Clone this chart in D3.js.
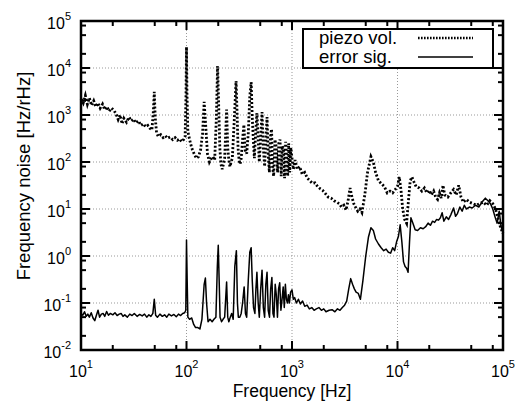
<!DOCTYPE html>
<html>
<head>
<meta charset="utf-8">
<script src="https://cdn.jsdelivr.net/npm/d3@7"></script>
<style>
body { margin: 0; background: #fff; }
text { font-family: "Liberation Sans", Arial, sans-serif; fill: #000; }
</style>
</head>
<body>
<script>
// piezo voltage spectrum [frequency Hz, noise Hz/rHz]
var piezo = [
  [10,2200],[10.5,1800],[11,2600],[11.5,1700],[12,2300],[12.6,1600],[13.2,2000],[13.8,1500],
  [14.5,1800],[15.2,1400],[16,1700],[16.8,1300],[17.6,1500],[18.5,1200],[19.5,1400],[20.5,1250],
  [21.5,1050],[22.5,800],[23.5,1000],[24.5,650],[25.5,850],[27,700],[28.5,900],[30,750],
  [31.5,820],[33,680],[35,750],[37,600],[39,650],[41,560],[43,600],[45,520],[47,480],
  [48.5,1200],[49.5,3100],[50.5,900],[52,420],[54,350],[57,380],[60,330],[63,360],[66,320],
  [70,340],[74,300],[78,330],[82,290],[86,310],[90,270],[94,300],[97,350],[99,3000],
  [100,28000],[101,3000],[103,450],[107,300],[112,200],[118,150],[124,120],[130,130],
  [136,180],[142,400],[147,1900],[152,600],[158,150],[165,100],[172,120],[178,130],[185,110],
  [192,900],[197,11000],[202,1500],[207,200],[212,90],[218,70],[224,90],[230,120],[240,1300],
  [246,200],[252,110],[258,80],[265,100],[272,120],[283,700],[295,5300],[302,1000],[308,200],
  [315,110],[322,90],[330,120],[340,300],[350,620],[360,180],[372,150],[385,400],[398,2500],
  [410,5000],[420,900],[430,300],[440,120],[452,400],[465,1100],[478,300],[490,100],[505,350],
  [520,1150],[535,200],[550,80],[565,300],[580,900],[595,150],[610,60],[625,350],[640,500],
  [655,80],[670,50],[690,300],[710,200],[730,60],[750,250],[770,300],[790,50],[810,220],
  [830,180],[850,45],[870,270],[890,120],[910,50],[930,250],[950,60],[975,200],[1000,120],
  [1030,70],[1070,110],[1120,70],[1180,80],[1250,55],[1320,60],[1400,45],[1480,40],[1560,35],
  [1650,36],[1750,30],[1850,27],[1950,25],[2050,22],[2200,18],[2350,17],[2500,15],[2650,14],
  [2800,13],[2950,11],[3100,12],[3250,9.5],[3400,15],[3550,28],[3700,18],[3850,13],[4000,11],
  [4200,9],[4400,10],[4600,8.4],[4900,20],[5200,60],[5600,130],[5900,100],[6200,60],[6600,40],
  [7000,35],[7500,30],[8000,22],[8500,24],[9000,22],[9500,26],[10000,30],[10400,48],[10800,25],
  [11200,10],[11700,6],[12200,5],[12700,15],[13200,40],[13700,48],[14300,38],[15000,30],
  [16000,28],[17000,24],[18000,28],[19000,22],[20000,25],[21000,20],[22000,24],[23000,18],
  [24000,16],[25000,22],[26000,17],[27000,32],[28000,20],[30000,18],[32000,22],[34000,26],
  [36000,20],[38000,32],[40000,18],[42000,14],[45000,16],[48000,14],[52000,13],[56000,12],
  [60000,13],[65000,14],[70000,12],[75000,15],[80000,13],[85000,10],[90000,6],[95000,4],[100000,3]
];

// error signal spectrum [frequency Hz, noise Hz/rHz]
var errorSig = [
  [10,0.06],[10.4,0.055],[10.8,0.065],[11.2,0.052],[11.6,0.058],[12,0.05],[12.5,0.062],[13,0.048],
  [13.5,0.042],[14,0.055],[14.5,0.07],[15,0.05],[15.6,0.058],[16.2,0.06],[16.8,0.052],[17.5,0.066],
  [18.2,0.055],[19,0.06],[20,0.056],[21,0.062],[22,0.054],[23,0.058],[24,0.06],[25,0.052],
  [26,0.056],[27.5,0.05],[29,0.058],[30.5,0.054],[32,0.06],[34,0.052],[36,0.057],[38,0.053],
  [40,0.058],[42,0.05],[44,0.056],[46,0.052],[48,0.06],[49.5,0.12],[51,0.055],[53,0.05],
  [56,0.058],[59,0.052],[62,0.056],[65,0.05],[68,0.058],[72,0.053],[76,0.057],[80,0.051],
  [84,0.058],[88,0.054],[92,0.06],[96,0.062],[98.5,0.07],[100,2.2],[101.5,0.3],[103,0.05],
  [107,0.045],[112,0.048],[117,0.035],[122,0.03],[128,0.03],[134,0.028],[140,0.045],[147,0.25],
  [151,0.34],[155,0.1],[160,0.04],[167,0.045],[175,0.04],[182,0.045],[190,0.05],[196,0.6],
  [200,1.7],[204,0.3],[208,0.05],[215,0.04],[222,0.045],[230,0.05],[240,0.28],[246,0.05],
  [252,0.04],[260,0.05],[268,0.06],[277,0.045],[287,0.6],[297,1.3],[304,0.1],[310,0.05],
  [320,0.05],[330,0.06],[340,0.1],[352,0.22],[362,0.06],[372,0.05],[385,0.3],[398,1.2],
  [410,1.5],[420,0.3],[432,0.08],[445,0.06],[455,0.2],[465,0.45],[478,0.1],[490,0.05],
  [505,0.2],[520,0.5],[535,0.08],[550,0.05],[565,0.25],[580,0.45],[595,0.07],[612,0.05],
  [628,0.2],[645,0.35],[660,0.06],[675,0.05],[693,0.25],[710,0.15],[728,0.05],[746,0.2],
  [765,0.27],[785,0.07],[805,0.12],[825,0.22],[845,0.08],[865,0.25],[885,0.12],[905,0.1],
  [925,0.15],[945,0.1],[970,0.17],[1000,0.19],[1030,0.12],[1060,0.13],[1100,0.1],[1150,0.12],
  [1200,0.095],[1260,0.11],[1320,0.085],[1390,0.09],[1460,0.075],[1540,0.08],[1620,0.07],
  [1700,0.075],[1800,0.08],[1900,0.07],[2000,0.075],[2100,0.065],[2250,0.07],[2400,0.072],
  [2550,0.065],[2700,0.075],[2850,0.07],[3000,0.08],[3150,0.09],[3300,0.11],[3450,0.2],
  [3600,0.33],[3750,0.25],[3900,0.2],[4050,0.17],[4250,0.16],[4450,0.12],[4700,0.3],[5000,1],
  [5300,2.5],[5600,4],[5900,3.5],[6200,2.3],[6600,1.8],[7000,1.5],[7400,1.3],[7800,1.4],
  [8200,1.2],[8600,1.15],[9000,1.5],[9400,1.3],[9800,2],[10200,2.6],[10600,4.6],[11000,2],
  [11400,0.75],[11800,0.6],[12200,0.55],[12600,0.45],[13000,2],[13400,6.5],[14000,5],
  [14700,3.6],[15500,3.5],[16500,4],[17500,3.8],[18500,4.2],[19500,5],[20500,4.5],[21500,5.5],
  [22500,5.2],[23500,6],[24500,5.8],[25500,6.5],[26500,8.3],[27500,5.5],[29000,6.8],[30500,6],
  [32000,7.5],[34000,10.5],[35500,7],[37000,8],[39000,11],[41000,9],[43000,12],[45000,10],
  [48000,11],[51000,10.5],[55000,12],[59000,11],[63000,14],[68000,17],[72000,15],[76000,13],
  [80000,10],[84000,6.8],[88000,5],[92000,9],[96000,4.2],[100000,3.1]
];

var xDecades = [1, 2, 3, 4, 5];
var yDecades = [-2, -1, 0, 1, 2, 3, 4, 5];
var minorMult = [2, 5, 8];
var seriesNames = ["piezo vol.", "error sig."];

var w = 522, h = 401;
var pl = 81, pr = 503, pt = 21, pb = 350;

var svg = d3.select("body")
            .append("svg")
            .attr("width", w)
            .attr("height", h);

var xScale = d3.scaleLog()
               .domain([10, 1e5])
               .range([pl, pr]);

var yScale = d3.scaleLog()
               .domain([1e-2, 1e5])
               .range([pb, pt]);

// grid
var grid = svg.append("g")
              .attr("stroke", "#999")
              .attr("stroke-width", 1)
              .attr("stroke-dasharray", "1,2");

grid.selectAll("line.gx")
    .data(xDecades.slice(1, -1))
    .enter()
    .append("line")
    .attr("x1", d => xScale(Math.pow(10, d)))
    .attr("x2", d => xScale(Math.pow(10, d)))
    .attr("y1", pt)
    .attr("y2", pb);

grid.selectAll("line.gy")
    .data(yDecades.slice(1, -1))
    .enter()
    .append("line")
    .attr("y1", d => yScale(Math.pow(10, d)))
    .attr("y2", d => yScale(Math.pow(10, d)))
    .attr("x1", pl)
    .attr("x2", pr);

// curves
var line = d3.line()
             .x(d => xScale(d[0]))
             .y(d => yScale(d[1]));

var plot = svg.append("g");

plot.append("path")
    .datum(piezo)
    .attr("d", line)
    .attr("fill", "none")
    .attr("stroke", "#000")
    .attr("stroke-width", 2.8)
    .attr("stroke-dasharray", "2,2");

plot.append("path")
    .datum(errorSig)
    .attr("d", line)
    .attr("fill", "none")
    .attr("stroke", "#000")
    .attr("stroke-width", 1.5)
    .attr("stroke-linejoin", "round");

// ticks, all pointing inward
var xMajor = xDecades.map(d => Math.pow(10, d));
var yMajor = yDecades.map(d => Math.pow(10, d));
var xMinor = [], yMinor = [];
xDecades.slice(0, -1).forEach(function(d) {
    minorMult.forEach(m => xMinor.push(m * Math.pow(10, d)));
});
yDecades.slice(0, -1).forEach(function(d) {
    minorMult.forEach(m => yMinor.push(m * Math.pow(10, d)));
});

var ticks = svg.append("g")
               .attr("stroke", "#000")
               .attr("stroke-width", 2);

function xTicks(vals, len) {
    vals.forEach(function(v) {
        var x = xScale(v);
        ticks.append("line").attr("x1", x).attr("x2", x).attr("y1", pb).attr("y2", pb - len);
        ticks.append("line").attr("x1", x).attr("x2", x).attr("y1", pt).attr("y2", pt + len);
    });
}
function yTicks(vals, len) {
    vals.forEach(function(v) {
        var y = yScale(v);
        ticks.append("line").attr("y1", y).attr("y2", y).attr("x1", pl).attr("x2", pl + len);
        ticks.append("line").attr("y1", y).attr("y2", y).attr("x1", pr).attr("x2", pr - len);
    });
}
xTicks(xMajor, 9);
xTicks(xMinor, 5);
yTicks(yMajor, 9);
yTicks(yMinor, 5);

svg.append("rect")
   .attr("x", pl)
   .attr("y", pt)
   .attr("width", pr - pl)
   .attr("height", pb - pt)
   .attr("fill", "none")
   .attr("stroke", "#000")
   .attr("stroke-width", 2.5);

// tick labels as 10 with superscript exponent
svg.selectAll("text.xl")
   .data(xDecades)
   .enter()
   .append("text")
   .attr("x", d => xScale(Math.pow(10, d)))
   .attr("y", 377)
   .attr("text-anchor", "middle")
   .style("font-size", "16px")
   .each(function(d) {
       var t = d3.select(this);
       t.append("tspan").text("10");
       t.append("tspan").attr("dy", -9).style("font-size", "11px").text(d);
   });

svg.selectAll("text.yl")
   .data(yDecades)
   .enter()
   .append("text")
   .attr("x", 71)
   .attr("y", d => yScale(Math.pow(10, d)) + 8)
   .attr("text-anchor", "end")
   .style("font-size", "16px")
   .each(function(d) {
       var t = d3.select(this);
       t.append("tspan").text("10");
       t.append("tspan").attr("dy", -9).style("font-size", "11px").text(d < 0 ? "-" + (-d) : d);
   });

// axis titles
svg.append("text")
   .attr("x", 292)
   .attr("y", 397)
   .attr("text-anchor", "middle")
   .style("font-size", "17.5px")
   .text("Frequency [Hz]");

svg.append("text")
   .attr("transform", "translate(30,176) rotate(-90)")
   .attr("text-anchor", "middle")
   .style("font-size", "18.5px")
   .text("Frequency noise [Hz/rHz]");

// legend
var legend = svg.append("g");

legend.append("rect")
      .attr("x", 303)
      .attr("y", 29)
      .attr("width", 190)
      .attr("height", 39)
      .attr("fill", "#fff")
      .attr("stroke", "#000")
      .attr("stroke-width", 2);

seriesNames.forEach(function(name, i) {
    var y = 38 + i * 19;
    legend.append("text")
          .attr("x", 319)
          .attr("y", y + 6)
          .style("font-size", "18.5px")
          .text(name);
    var l = legend.append("line")
          .attr("x1", 418)
          .attr("x2", 473)
          .attr("y1", y)
          .attr("y2", y)
          .attr("stroke", "#000");
    if (i == 0) {
        l.attr("stroke-width", 2.6).attr("stroke-dasharray", "1.6,1.4");
    } else {
        l.attr("stroke-width", 1.5);
    }
});
</script>
</body>
</html>
